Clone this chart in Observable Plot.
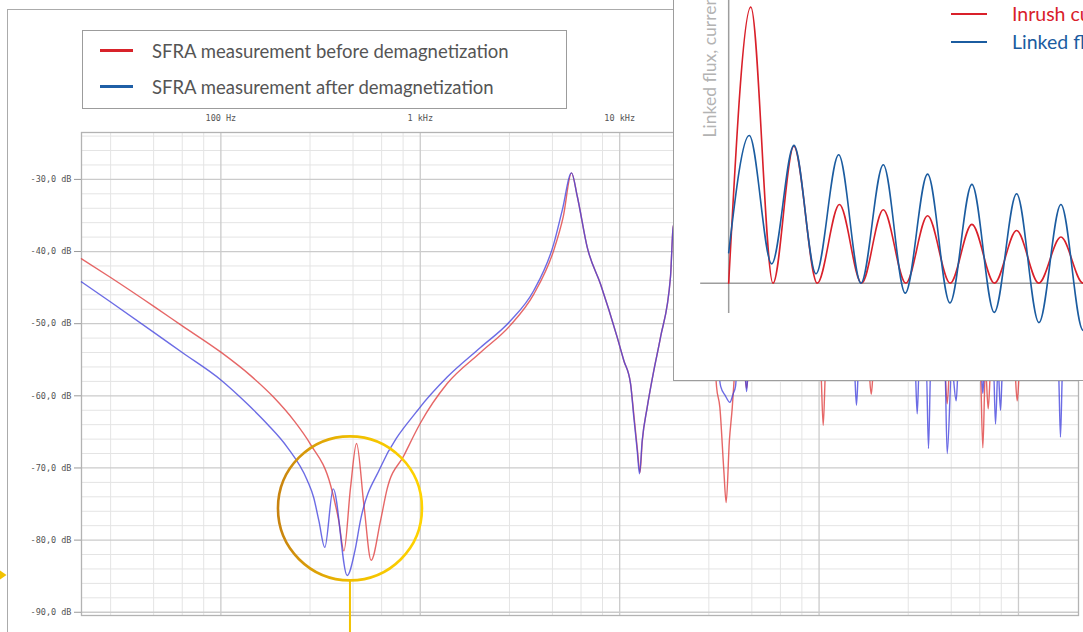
<!DOCTYPE html>
<html><head><meta charset="utf-8">
<script src="https://cdn.jsdelivr.net/npm/d3@7"></script>
<script src="https://cdn.jsdelivr.net/npm/@observablehq/plot@0.6"></script>
<style>
html,body{margin:0;padding:0;background:#fff;}
body{width:1083px;height:632px;overflow:hidden;position:relative;font-family:Lato,"Noto Sans",sans-serif;}
#main{position:absolute;left:0;top:0;}
.fl{position:absolute;background:#ababab;}
#legend{position:absolute;left:82px;top:29.5px;width:483px;height:77px;border:1px solid #9c9c9c;background:#fff;}
.lg-line{position:absolute;left:17px;width:33px;height:3px;}
.lg-text{position:absolute;left:69px;height:24px;line-height:24px;font-size:18.5px;color:#555;white-space:nowrap;}
#inset{position:absolute;left:673px;top:0;width:410px;height:381px;box-sizing:border-box;border-left:1.5px solid #9d9d9d;border-bottom:1.5px solid #9d9d9d;background:#fff;overflow:hidden;}
#insetPlot{position:absolute;left:0;top:0;}
.in-line{position:absolute;left:277px;width:36px;height:2px;}
.in-text{position:absolute;left:338px;height:24px;line-height:24px;font-size:19.5px;white-space:nowrap;}
</style></head><body>
<div id="main"></div>
<div class="fl" style="left:7px;top:9px;width:1px;height:623px;"></div>
<div class="fl" style="left:7px;top:9px;width:667px;height:1px;"></div>
<div id="legend"></div>
<div id="inset"><div id="insetPlot"></div></div>
<script>
// ---------- main SFRA chart data (frequency in Hz, magnitude in dB) ----------
const beforeFreq = [20, 28, 46.1, 64, 100, 141, 184, 232, 281, 355, 390, 414, 447, 479, 521, 567, 632, 682, 827, 1000, 1365, 2004, 2835, 3710, 4675, 5210, 5734, 6124, 6872, 8012, 9722, 10488, 11336, 11776, 12246, 12650, 12972, 13742, 14832, 16022, 17984, 18554,
  22700, 25400, 28500, 30600, 31800, 33300, 34200, 35500, 36700, 37300, 39500, 41800, 43300, 44800, 70000,
  101800, 104900, 108000, 140000, 177300, 182600, 188000, 300000, 426000, 439000, 452000, 560000,
  643000, 662600, 683000, 705000, 726000, 850000, 957000, 985600, 1015000, 1300000, 2000000];
const beforeDb = [-41.0, -43.6, -47.6, -50.3, -53.95, -57.2, -60.2, -63.4, -66.7, -72.4, -77.3, -81.5, -72.7, -66.6, -75.0, -82.8, -77.3, -72.9, -68.3, -63.8, -58.3, -54.0, -50.2, -45.9, -39.8, -35.2, -29.1, -32.3, -39.4, -44.5, -51.9, -55.1, -58.3, -62.6, -67.2, -70.6, -66.4, -61.6, -56.5, -51.9, -43.5, -36.6,
  -31, -28, -40, -58.7, -61.6, -70.4, -74.8, -66.2, -61.6, -58.7, -51, -55, -59.0, -55, -49,
  -56, -64.1, -56, -50, -56, -59.8, -56, -50, -56, -61.1, -56, -51,
  -56, -67.2, -56, -61.8, -56, -51, -56, -60.7, -56, -50, -49];

const afterFreq = [20, 28, 46.1, 64, 100, 135.5, 170.8, 215, 271, 292, 310, 332, 366, 430, 470, 501, 632, 983, 1365, 2004, 2835, 3710, 4675, 5150, 5734, 6124, 6872, 8012, 9722, 10488, 11336, 11776, 12246, 12572, 12972, 13742, 14832, 16022, 17984, 18554,
  22700, 25400, 28500, 31000, 32100, 33900, 35700, 37100, 38100, 39500, 42200, 43300, 44400, 80000,
  150000, 154000, 158000, 250000, 303000, 310500, 318000, 345000, 353800, 363000, 400000,
  428000, 439000, 463000, 487000, 499000, 600000, 650000, 662600, 676000,
  749000, 767000, 790000, 812600, 833000, 1200000, 1585000, 1624000, 1665000, 2000000];
const afterDb = [-44.2, -47.0, -51.2, -54.0, -57.8, -61.1, -63.9, -67.1, -71.7, -74.1, -77.3, -81.0, -72.9, -84.9, -81.5, -77.3, -69.9, -61.8, -57.4, -53.3, -49.6, -45.4, -38.9, -34.3, -29.1, -32.3, -39.4, -44.5, -51.9, -55.1, -58.3, -63.0, -67.6, -70.8, -66.2, -61.6, -56.5, -51.9, -43.5, -36.6,
  -31, -28, -40, -55, -58.7, -60.0, -60.9, -59.7, -58.7, -53, -55, -59.4, -55, -49,
  -56, -61.3, -56, -50, -56, -62.5, -56, -56, -67.3, -56, -51,
  -56, -68.0, -56, -60.7, -56, -50, -56, -59.7, -56,
  -56, -63.9, -56, -62.0, -56, -50, -56, -65.7, -56, -50];

const seriesNames = ["SFRA measurement before demagnetization", "SFRA measurement after demagnetization"];
const legendColors = ["#d8232a", "#1f5fa6"];
const curveColors = ["#e04646", "#4343de"];

const xMajorTicks = [100, 1000, 10000, 100000, 1000000];
const xMajorLabels = ["100 Hz", "1 kHz", "10 kHz", "100 kHz", "1 MHz"];
const xMinorMultiples = [2.8, 4.6, 6.4, 8.2];
const xDecades = [10, 100, 1000, 10000, 100000];
const yMajorTicks = [-30, -40, -50, -60, -70, -80, -90];
const yMajorLabels = ["-30,0 dB", "-40,0 dB", "-50,0 dB", "-60,0 dB", "-70,0 dB", "-80,0 dB", "-90,0 dB"];
const yMinorStep = 2;

// highlighted region (circle) in data coordinates
const ringFreq = [444];
const ringDb = [-75.6];
const ringBottomDb = [-85.6];
const arrowDb = -84.9;

// ---------- inset data (time in periods, normalised amplitude) ----------
const inrushT = [0, 0.5, 1, 1.47, 2, 2.5, 3, 3.49, 4, 4.49, 5, 5.49, 6, 6.5, 7, 7.5, 8, 8.5];
const inrushV = [0, 1.0, 0, 0.496, 0, 0.285, 0, 0.266, 0, 0.244, 0, 0.213, 0, 0.191, 0, 0.167, 0, 0.15];
const fluxT = [0, 0.465, 0.971, 1.474, 1.971, 2.483, 2.986, 3.49, 3.986, 4.49, 4.995, 5.49, 5.995, 6.5, 7.004, 7.5, 8.0, 8.5];
const fluxV = [0.110, 0.535, 0.070, 0.499, 0.034, 0.465, 0, 0.429, -0.036, 0.395, -0.072, 0.358, -0.106, 0.324, -0.143, 0.285, -0.171, 0.25];
const insetNames = ["Inrush current", "Linked flux"];
const insetColors = ["#d9202a", "#1b5ca0"];
const insetYLabel = "Linked flux, current";

// ---------- build tables ----------
const before = beforeFreq.map((f, i) => ({f, db: beforeDb[i]}));
const after = afterFreq.map((f, i) => ({f, db: afterDb[i]}));
const xMinor = xDecades.flatMap(d => xMinorMultiples.map(m => d * m)).filter(v => v > 20 && v < 2e6);
const yMinor = d3.range(-90, -23, yMinorStep).filter(v => v % 10 !== 0);
const yLab = new Map(yMajorTicks.map((v, i) => [v, yMajorLabels[i]]));
const xLab = new Map(xMajorTicks.map((v, i) => [v, xMajorLabels[i]]));
const ring = ringFreq.map((f, i) => ({f, db: ringDb[i], bottom: ringBottomDb[i], end: -93}));

const main = Plot.plot({
  width: 1083, height: 632,
  marginLeft: 81, marginRight: 5, marginTop: 132, marginBottom: 17,
  style: {background: "transparent", overflow: "visible", fontFamily: "'DejaVu Sans Mono', monospace", fontSize: "8.5px", color: "#555"},
  x: {type: "log", domain: [20, 2e6]},
  y: {domain: [-90.45, -23.5]},
  marks: [
    Plot.ruleX(xMinor, {stroke: "#e4e4e4", strokeWidth: 1}),
    Plot.ruleY(yMinor, {stroke: "#e4e4e4", strokeWidth: 1}),
    Plot.ruleX(xMajorTicks, {stroke: "#cbcbcb", strokeWidth: 1.3}),
    Plot.ruleY(yMajorTicks, {stroke: "#cbcbcb", strokeWidth: 1.3}),
    Plot.frame({stroke: "#b3b3b3", strokeWidth: 1.3}),
    Plot.axisY(yMajorTicks, {tickSize: 7, tickPadding: 3, stroke: "#999", fill: "#555", tickFormat: d => yLab.get(d), label: null}),
    Plot.axisX(xMajorTicks, {anchor: "top", tickSize: 0, tickPadding: 12, fill: "#555", tickFormat: d => xLab.get(d), label: null}),
    Plot.line(before, {x: "f", y: "db", stroke: curveColors[0], strokeWidth: 1.4, strokeOpacity: 0.82, curve: "monotone-x"}),
    Plot.line(after, {x: "f", y: "db", stroke: curveColors[1], strokeWidth: 1.4, strokeOpacity: 0.78, curve: "monotone-x"}),
    Plot.ruleX(ring, {x: "f", y1: "bottom", y2: "end", stroke: "#f2c200", strokeWidth: 2}),
    Plot.dot(ring, {x: "f", y: "db", r: 72, stroke: "#e8b400", strokeWidth: 2.6, fill: "none"})
  ]
});
document.getElementById("main").appendChild(main);

const svg = d3.select(main);
const defs = svg.insert("defs", ":first-child");
const grad = defs.append("linearGradient").attr("id", "ringGrad").attr("x1", "0").attr("x2", "1").attr("y1", "0").attr("y2", "0");
grad.append("stop").attr("offset", "0%").attr("stop-color", "#c8830f");
grad.append("stop").attr("offset", "50%").attr("stop-color", "#efbd00");
grad.append("stop").attr("offset", "100%").attr("stop-color", "#ffd300");
svg.selectAll("g[aria-label=dot] circle").attr("stroke", "url(#ringGrad)");
const ay = main.scale("y").apply(arrowDb);
svg.append("path").attr("d", `M0,${ay - 4.5}L6.5,${ay}L0,${ay + 4.5}Z`).attr("fill", "#f2c200");

// legend
const legend = document.getElementById("legend");
seriesNames.forEach((name, i) => {
  const cy = [20, 56][i];
  const ln = document.createElement("div");
  ln.className = "lg-line"; ln.style.top = (cy - 1.5) + "px"; ln.style.background = legendColors[i];
  legend.appendChild(ln);
  const tx = document.createElement("div");
  tx.className = "lg-text"; tx.style.top = (cy - 12) + "px"; tx.textContent = name;
  legend.appendChild(tx);
});

// inset
const inrush = inrushT.map((t, i) => ({t, v: inrushV[i]}));
const flux = fluxT.map((t, i) => ({t, v: fluxV[i]}));
const inset = Plot.plot({
  width: 409, height: 379, margin: 0,
  style: {background: "transparent", overflow: "visible"},
  x: {domain: [-1.223, 8.01], axis: null},
  y: {domain: [-0.349, 1.024], axis: null},
  marks: [
    Plot.ruleY([0], {x1: -0.632, x2: 9, stroke: "#9d9d9d", strokeWidth: 1.5}),
    Plot.ruleX([0], {y1: -0.11, y2: 1.1, stroke: "#9d9d9d", strokeWidth: 1.5}),
    Plot.line(inrush, {x: "t", y: "v", stroke: insetColors[0], strokeWidth: 1.6, curve: "monotone-x"}),
    Plot.line(flux, {x: "t", y: "v", stroke: insetColors[1], strokeWidth: 1.6, curve: "monotone-x"}),
    Plot.text([insetYLabel], {x: [-0.42], y: [0.528], text: d => d, rotate: -90, textAnchor: "start", fill: "#b3b3b3", fontSize: 17.5, fontFamily: "Lato, sans-serif"})
  ]
});
document.getElementById("insetPlot").appendChild(inset);
const insetDiv = document.getElementById("inset");
insetNames.forEach((name, i) => {
  const cy = [14, 42][i];
  const ln = document.createElement("div");
  ln.className = "in-line"; ln.style.top = (cy - 1) + "px"; ln.style.background = insetColors[i];
  insetDiv.appendChild(ln);
  const tx = document.createElement("div");
  tx.className = "in-text"; tx.style.top = (cy - 12) + "px"; tx.style.color = insetColors[i]; tx.textContent = name;
  insetDiv.appendChild(tx);
});
</script>
</body></html>
